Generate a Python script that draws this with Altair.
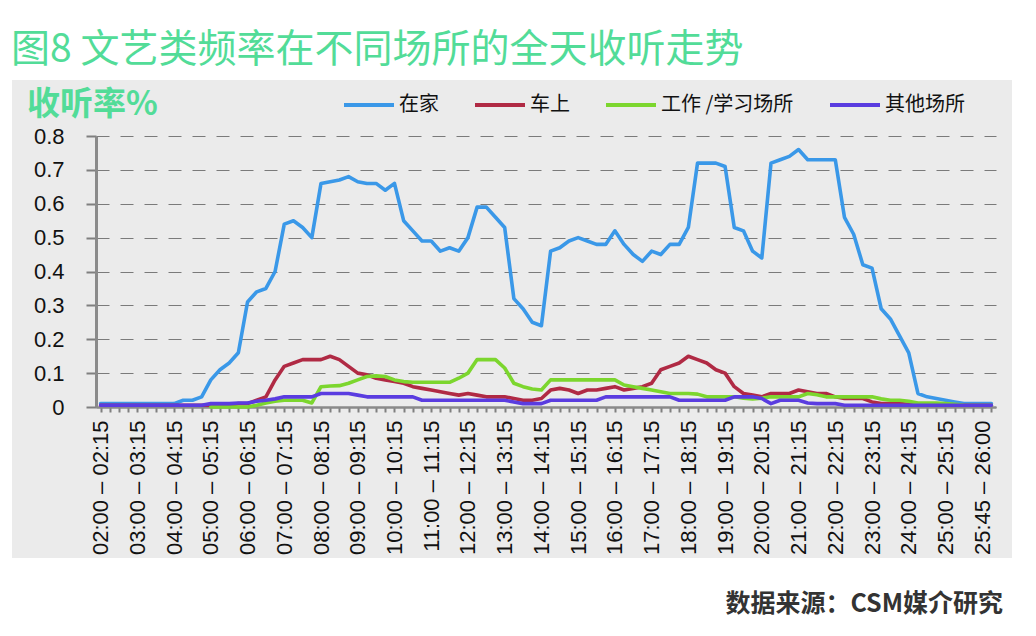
import json
import altair as alt
import pandas as pd

SERIES = ["在家", "车上", "工作 /学习场所", "其他场所"]
COLORS = ["#3a98e8", "#b02a44", "#7cd62e", "#5a3ce0"]

TICK_LABELS = [
    "02:00 – 02:15", "03:00 – 03:15", "04:00 – 04:15", "05:00 – 05:15",
    "06:00 – 06:15", "07:00 – 07:15", "08:00 – 08:15", "09:00 – 09:15",
    "10:00 – 10:15", "11:00 – 11:15", "12:00 – 12:15", "13:00 – 13:15",
    "14:00 – 14:15", "15:00 – 15:15", "16:00 – 16:15", "17:00 – 17:15",
    "18:00 – 18:15", "19:00 – 19:15", "20:00 – 20:15", "21:00 – 21:15",
    "22:00 – 22:15", "23:00 – 23:15", "24:00 – 24:15", "25:00 – 25:15",
    "25:45 – 26:00",
]

HOME = [
    0.01, 0.01, 0.01, 0.01, 0.01, 0.01, 0.01, 0.01, 0.01, 0.02,
    0.02, 0.03, 0.08, 0.11, 0.13, 0.16, 0.31, 0.34, 0.35, 0.40,
    0.54, 0.55, 0.53, 0.50, 0.66, 0.665, 0.67, 0.68, 0.665, 0.66,
    0.66, 0.64, 0.66, 0.55, 0.52, 0.49, 0.49, 0.46, 0.47, 0.46,
    0.50, 0.59, 0.59, 0.56, 0.53, 0.32, 0.29, 0.25, 0.24, 0.46,
    0.47, 0.49, 0.50, 0.49, 0.48, 0.48, 0.52, 0.48, 0.45, 0.43,
    0.46, 0.45, 0.48, 0.48, 0.53, 0.72, 0.72, 0.72, 0.71, 0.53,
    0.52, 0.46, 0.44, 0.72, 0.73, 0.74, 0.76, 0.73, 0.73, 0.73,
    0.73, 0.56, 0.51, 0.42, 0.41, 0.29, 0.26, 0.21, 0.16, 0.04,
    0.03, 0.025, 0.02, 0.015, 0.01, 0.01, 0.01, 0.01,
]

CAR = [
    0.005, 0.005, 0.005, 0.005, 0.005, 0.005, 0.005, 0.005, 0.005, 0.005,
    0.005, 0.005, 0.005, 0.005, 0.005, 0.01, 0.01, 0.02, 0.03, 0.08,
    0.12, 0.13, 0.14, 0.14, 0.14, 0.15, 0.14, 0.12, 0.10, 0.095,
    0.085, 0.08, 0.075, 0.07, 0.06, 0.055, 0.05, 0.045, 0.04, 0.035,
    0.04, 0.035, 0.03, 0.03, 0.03, 0.025, 0.02, 0.02, 0.025, 0.05,
    0.055, 0.05, 0.04, 0.05, 0.05, 0.055, 0.06, 0.05, 0.055, 0.06,
    0.07, 0.11, 0.12, 0.13, 0.15, 0.14, 0.13, 0.11, 0.10, 0.06,
    0.04, 0.035, 0.03, 0.04, 0.04, 0.04, 0.05, 0.045, 0.04, 0.04,
    0.03, 0.025, 0.025, 0.025, 0.015, 0.01, 0.01, 0.01, 0.008, 0.008,
    0.008, 0.008, 0.006, 0.005, 0.005, 0.005, 0.005, 0.005,
]

WORK = [
    None, None, None, None, None, None, None, None, None, None,
    None, None, 0.0, 0.0, 0.0, 0.0, 0.0, 0.005, 0.012, 0.017,
    0.02, 0.02, 0.02, 0.012, 0.06, 0.062, 0.063, 0.07, 0.08, 0.09,
    0.092, 0.09, 0.08, 0.075, 0.073, 0.073, 0.073, 0.073, 0.073, 0.085,
    0.10, 0.14, 0.14, 0.14, 0.115, 0.07, 0.06, 0.053, 0.05, 0.08,
    0.08, 0.08, 0.08, 0.08, 0.08, 0.08, 0.08, 0.065, 0.06, 0.055,
    0.05, 0.045, 0.04, 0.04, 0.04, 0.038, 0.03, 0.03, 0.03, 0.03,
    0.026, 0.024, 0.026, 0.03, 0.03, 0.03, 0.03, 0.04, 0.036, 0.03,
    0.03, 0.03, 0.03, 0.03, 0.03, 0.024, 0.02, 0.02, 0.017, 0.012,
    0.012, 0.012, 0.01, 0.008, 0.006, 0.005, 0.005, 0.005,
]

OTHER = [
    0.005, 0.005, 0.005, 0.005, 0.005, 0.005, 0.005, 0.005, 0.005, 0.005,
    0.005, 0.005, 0.01, 0.01, 0.01, 0.012, 0.012, 0.017, 0.02, 0.024,
    0.03, 0.03, 0.03, 0.03, 0.04, 0.04, 0.04, 0.04, 0.035, 0.03,
    0.03, 0.03, 0.03, 0.03, 0.03, 0.02, 0.02, 0.02, 0.02, 0.02,
    0.02, 0.02, 0.02, 0.02, 0.02, 0.015, 0.01, 0.01, 0.01, 0.02,
    0.02, 0.02, 0.02, 0.02, 0.02, 0.03, 0.03, 0.03, 0.03, 0.03,
    0.03, 0.03, 0.03, 0.02, 0.02, 0.02, 0.02, 0.02, 0.02, 0.03,
    0.03, 0.03, 0.025, 0.01, 0.02, 0.02, 0.02, 0.012, 0.01, 0.01,
    0.01, 0.005, 0.005, 0.005, 0.005, 0.005, 0.005, 0.005, 0.005, 0.005,
    0.005, 0.005, 0.005, 0.005, 0.005, 0.005, 0.005, 0.005,
]

TITLE = "图8 文艺类频率在不同场所的全天收听走势"
YTITLE = "收听率%"
SOURCE = "数据来源：CSM媒介研究"

rows = []
for name, vals in zip(SERIES, [HOME, CAR, WORK, OTHER]):
    for i, v in enumerate(vals):
        if v is not None:
            rows.append({"idx": i, "series": name, "value": v})
df = pd.DataFrame(rows)
n = len(HOME)

GREEN = "#52dc98"
CJK = "Noto Sans CJK SC"
LATIN = "Liberation Sans"

label_expr = ("datum.value % 4 === 0 ? " + json.dumps(TICK_LABELS, ensure_ascii=False)
              + "[datum.value / 4] : ''")

color = alt.Color(
    "series:N",
    scale=alt.Scale(domain=SERIES, range=COLORS),
    legend=alt.Legend(
        orient="none", legendX=246, legendY=-58, direction="horizontal",
        columns=4, symbolType="stroke", symbolSize=2500, symbolStrokeWidth=4,
        labelFontSize=20, labelFont=CJK, labelColor="#111111",
        columnPadding=28, labelOffset=3, title=None, padding=0,
    ),
)

x_enc = alt.X(
    "idx:Q",
    scale=alt.Scale(domain=[-0.5, n - 0.5], nice=False, zero=False),
    axis=alt.Axis(
        values=list(range(n)), labelExpr=label_expr, labelAngle=-90,
        labelFontSize=22, labelFont=LATIN, labelColor="#111111",
        labelPadding=8, labelOverlap=False, labelFlush=False, labelBound=False,
        tickSize=5, tickWidth=2, tickColor="#7f7f7f",
        domainColor="#8a8a8a", domainWidth=2.5, grid=False, title=None,
    ),
)
y_enc = alt.Y(
    "value:Q",
    scale=alt.Scale(domain=[0, 0.8], nice=False),
    axis=alt.Axis(
        values=[0, 0.1, 0.2, 0.3, 0.4, 0.5, 0.6, 0.7, 0.8], format=".1~f",
        labelFontSize=22, labelFont=LATIN, labelColor="#111111", labelPadding=22,
        tickSize=10, tickWidth=2, tickColor="#7f7f7f",
        domainColor="#8a8a8a", domainWidth=3,
        grid=True, gridColor="#7a7a7a", gridDash=[13, 11], gridWidth=1,
        title=None,
    ),
)

lines = []
for name in SERIES:
    lines.append(
        alt.Chart(df)
        .transform_filter(alt.datum.series == name)
        .mark_line(strokeWidth=3.6, strokeJoin="round", strokeCap="round")
        .encode(x=x_enc, y=y_enc, color=color)
    )

one = alt.Data(values=[{"k": 1}])


def band(x1, x2, y1, y2):
    return alt.Chart(one).mark_rect(color="white").encode(
        x=alt.value(x1), x2=alt.value(x2), y=alt.value(y1), y2=alt.value(y2)
    )


bands = [
    band(-88, 932, -128, -56),
    band(-88, -84, -56, 422),
    band(916, 932, -56, 422),
    band(-88, 932, 422, 492),
]

title = alt.Chart(one).mark_text(
    text=TITLE, font=CJK, fontSize=39, color=GREEN, align="left", baseline="alphabetic"
).encode(x=alt.value(-85), y=alt.value(-74))

ytitle = alt.Chart(one).mark_text(
    text=YTITLE, font=CJK, fontSize=33, fontWeight="bold", color=GREEN,
    align="left", baseline="alphabetic"
).encode(x=alt.value(-69), y=alt.value(-21))

source = alt.Chart(one).mark_text(
    text=SOURCE, font=CJK, fontSize=25, fontWeight="bold", color="#333333",
    align="right", baseline="alphabetic"
).encode(x=alt.value(907), y=alt.value(476))

chart = alt.layer(*lines, *bands, title, ytitle, source).properties(
    width=900, height=271,
    padding={"left": 88, "top": 128, "right": 32, "bottom": 221},
    autosize=alt.AutoSizeParams(type="none"),
    background="#ebebeb",
).configure_view(stroke=None)

chart.save("out.html", embed_options={"renderer": "svg", "actions": False})
